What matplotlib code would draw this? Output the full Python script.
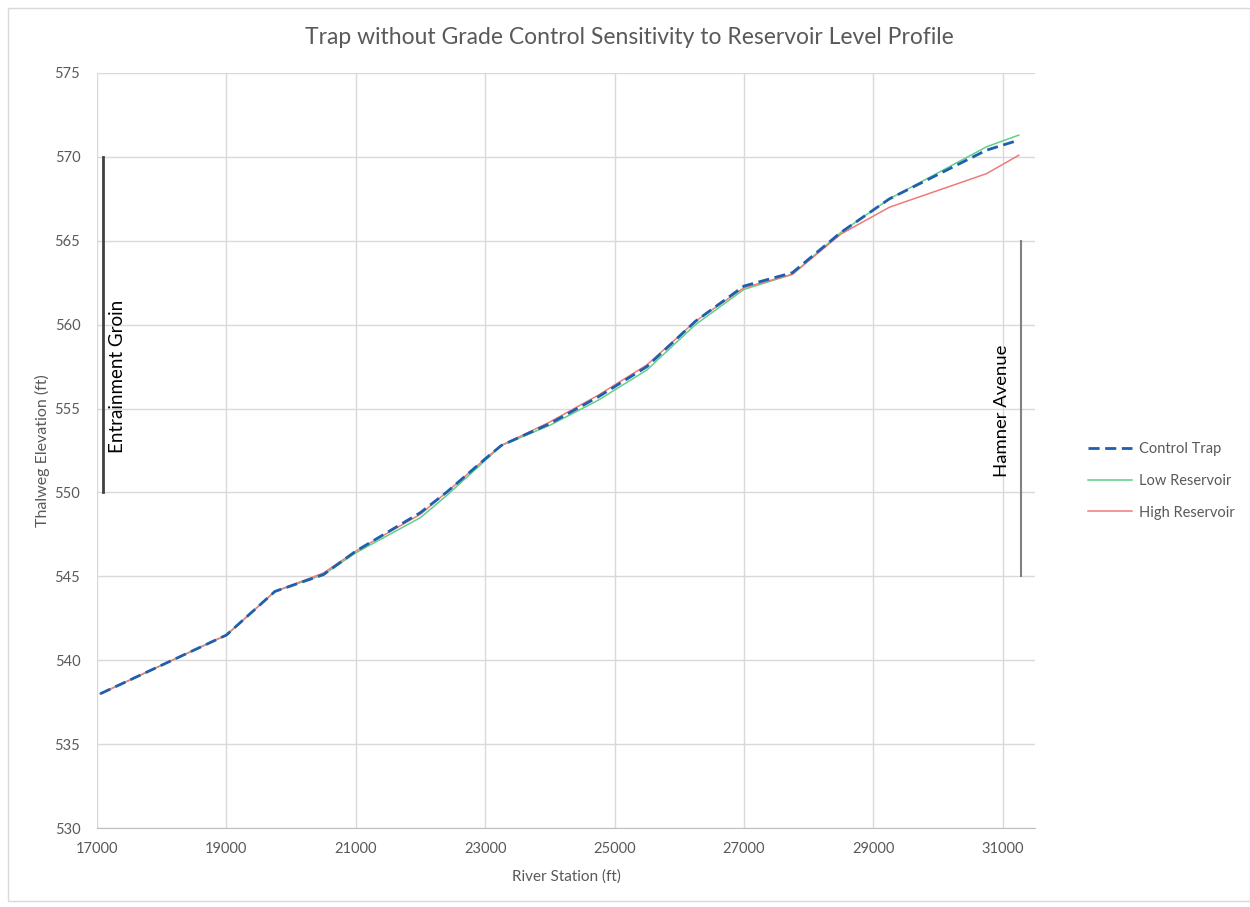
import matplotlib
matplotlib.use("Agg")
import matplotlib.pyplot as plt
from matplotlib.patches import Rectangle

station = [17050, 19000, 19750, 20500, 21000, 22000, 22400, 23000, 23250, 24000,
           24750, 25500, 26250, 27000, 27750, 28500, 29250, 30750, 31250]
control_trap = [538.0, 541.5, 544.1, 545.1, 546.5, 548.8, 550.0, 552.0, 552.8, 554.1,
                555.7, 557.5, 560.2, 562.3, 563.1, 565.5, 567.5, 570.4, 571.0]
low_reservoir = [538.0, 541.5, 544.1, 545.1, 546.4, 548.5, 549.8, 551.9, 552.8, 554.0,
                 555.5, 557.3, 560.0, 562.1, 563.0, 565.5, 567.5, 570.6, 571.3]
high_reservoir = [538.0, 541.5, 544.1, 545.2, 546.5, 548.7, 550.0, 552.0, 552.8, 554.2,
                  555.8, 557.6, 560.2, 562.2, 563.0, 565.4, 567.0, 569.0, 570.1]

x_ticks = [17000, 19000, 21000, 23000, 25000, 27000, 29000, 31000]
y_ticks = [530, 535, 540, 545, 550, 555, 560, 565, 570, 575]

groin_x, groin_y = 17090, (550, 570)
hamner_x, hamner_y = 31280, (545, 565)

plt.rcParams['font.family'] = ['Lato', 'DejaVu Sans']
txt = '#595959'

fig = plt.figure(figsize=(12.5, 9.07), dpi=100)
ax = fig.add_axes([97/1250, 1-828/907, (1035-97)/1250, (828-73)/907])

fig.patches.append(Rectangle((8/1250, 6/907), 1-8/1250, 1-14/907, transform=fig.transFigure,
                             fill=False, edgecolor='#d9d9d9', linewidth=1))

ax.plot(station, low_reservoir, color='#5fd08a', lw=1.1, label='Low Reservoir', zorder=3)
ax.plot(station, high_reservoir, color='#ef7b7b', lw=1.1, label='High Reservoir', zorder=3)
ax.plot(station, control_trap, color='#1f5fae', lw=2.0, ls=(0, (4, 2)), label='Control Trap', zorder=4)

ax.plot([groin_x, groin_x], groin_y, color='#404040', lw=2.0, zorder=2)
ax.plot([hamner_x, hamner_x], hamner_y, color='#808080', lw=1.5, zorder=2)
ax.text(17310, 556.9, 'Entrainment Groin', rotation=90, ha='center', va='center',
        fontsize=13.5, color='#000000')
ax.text(30985, 554.85, 'Hamner Avenue', rotation=90, ha='center', va='center',
        fontsize=13.3, color='#000000')

ax.set_xlim(17000, 31500)
ax.set_ylim(530, 575)
ax.set_xticks(x_ticks)
ax.set_yticks(y_ticks)
ax.set_xticklabels([str(v) for v in x_ticks])
ax.grid(True, color='#d9d9d9', lw=1)
ax.set_axisbelow(True)
for s in ['top', 'right', 'left']:
    ax.spines[s].set_visible(False)
ax.spines['bottom'].set_color('#bfbfbf')
ax.tick_params(axis='both', length=0, labelsize=10.5, labelcolor=txt)
ax.tick_params(axis='x', pad=10)
ax.tick_params(axis='y', pad=12)

fig.text(629/1250, 1-38/907, 'Trap without Grade Control Sensitivity to Reservoir Level Profile',
         fontsize=16.5, color=txt, ha='center', va='center')
ax.set_xlabel('River Station (ft)', fontsize=11, color=txt, labelpad=10)
ax.set_ylabel('Thalweg Elevation (ft)', fontsize=11.5, color=txt, labelpad=3)

h, l = ax.get_legend_handles_labels()
order = [2, 0, 1]
leg = fig.legend([h[i] for i in order], [l[i] for i in order], loc='center left',
                 bbox_to_anchor=(1075/1250, 1-481/907), frameon=False, fontsize=10.5,
                 labelcolor=txt, handlelength=3.0, labelspacing=1.2, handletextpad=0.5)

fig.savefig('out.png', dpi=100)
